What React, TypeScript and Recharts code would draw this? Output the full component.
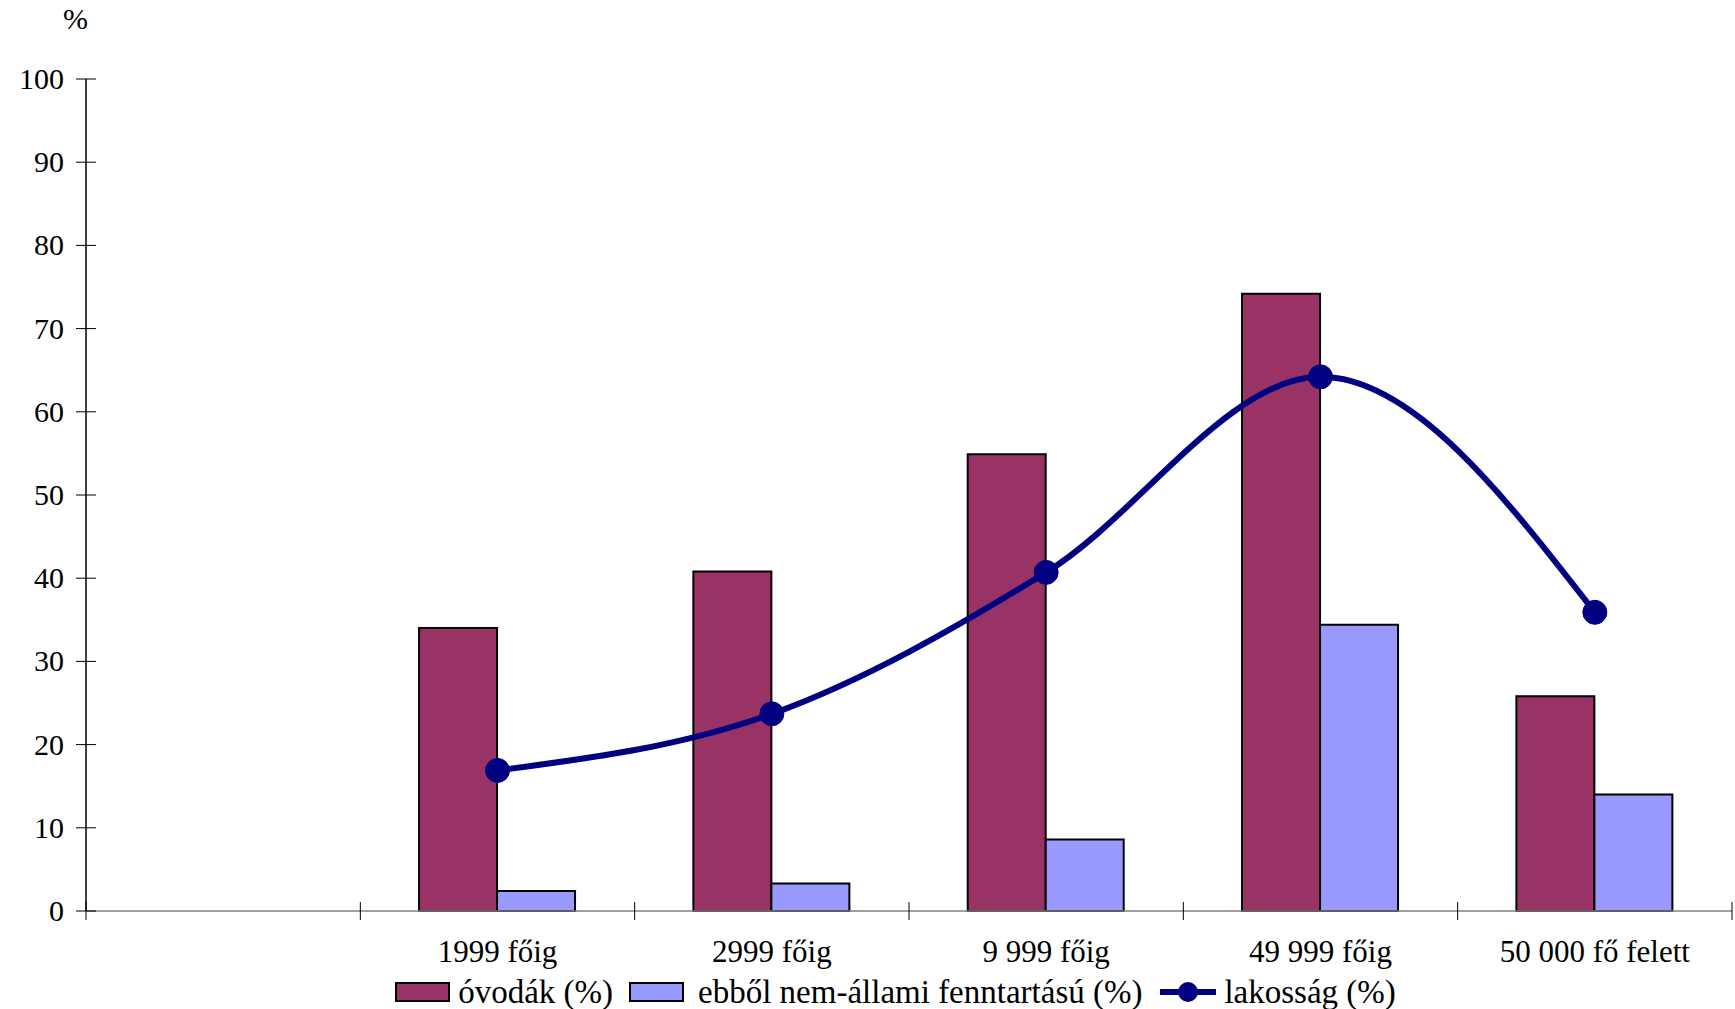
import { ComposedChart, Bar, Line, XAxis, YAxis, Legend } from 'recharts'

// település-kategóriák (az első sáv üres a tengelyen)
const categories = ['', '1999 főig', '2999 főig', '9 999 főig', '49 999 főig', '50 000 fő felett']
const ovodak = [null, 34.0, 40.8, 54.9, 74.2, 25.8]
const nemAllami = [null, 2.4, 3.3, 8.6, 34.4, 14.0]
const lakossag = [null, 16.9, 23.7, 40.7, 64.2, 35.9]
const yTicks = [0, 10, 20, 30, 40, 50, 60, 70, 80, 90, 100]

const FONT = '"Liberation Serif", "Times New Roman", serif'
const MAROON = '#993366'
const LILAC = '#9999ff'
const NAVY = '#000080'

const data = categories.map((name, i) => ({
    name,
    ovodak: ovodak[i],
    nemAllami: nemAllami[i],
    lakossag: lakossag[i],
}))

const YTick = ({ x, y, payload }: any) => (
    <g>
        <line x1={x - 10} x2={x + 10} y1={y} y2={y} stroke="#000" strokeWidth={1} />
        <text x={x - 22} y={y} dy={10} textAnchor="end" fontFamily={FONT} fontSize={30} fill="#000">
            {payload.value}
        </text>
    </g>
)

const XTick = ({ x, y, payload, index }: any) => {
    const half = payload.offset ?? 0
    return (
        <g>
            <line x1={x - half} x2={x - half} y1={y - 9} y2={y + 9} stroke="#000" strokeWidth={1} />
            {index === categories.length - 1 && (
                <line x1={x + half} x2={x + half} y1={y - 9} y2={y + 9} stroke="#000" strokeWidth={1} />
            )}
            <text x={x} y={y} dy={51} textAnchor="middle" fontFamily={FONT} fontSize={31} fill="#000">
                {payload.value}
            </text>
        </g>
    )
}

const renderLegend = () => {
    const text = { fontFamily: FONT, fontSize: 33, color: '#000', lineHeight: '32px' }
    const swatch = (color: string) => (
        <div style={{ width: 55, height: 20, background: color, border: '2px solid #000', boxSizing: 'border-box' as const }} />
    )
    return (
        <div style={{ display: 'flex', justifyContent: 'center', alignItems: 'center', gap: 16, paddingLeft: 56 }}>
            <div style={{ display: 'flex', alignItems: 'center', gap: 8 }}>
                {swatch(MAROON)}
                <span style={text}>óvodák (%)</span>
            </div>
            <div style={{ display: 'flex', alignItems: 'center', gap: 14 }}>
                {swatch(LILAC)}
                <span style={text}>ebből nem-állami fenntartású (%)</span>
            </div>
            <div style={{ display: 'flex', alignItems: 'center', gap: 6 }}>
                <svg width={60} height={26}>
                    <line x1={2} x2={58} y1={13} y2={13} stroke={NAVY} strokeWidth={6} />
                    <circle cx={30} cy={13} r={10} fill={NAVY} />
                </svg>
                <span style={text}>lakosság (%)</span>
            </div>
        </div>
    )
}

export default function App() {
    return (
        <div style={{ position: 'absolute', left: 0, top: 0, width: 1735, height: 1009, background: '#fff' }}>
            <div style={{
                position: 'absolute', left: 63, top: 2, fontFamily: FONT, fontSize: 30, color: '#000'
            }}>
                %
            </div>
            <ComposedChart
                width={1735}
                height={1009}
                data={data}
                margin={{ top: 79, right: 3, bottom: 38, left: 0 }}
                barCategoryGap="21.4%"
                barGap={0}
            >
                <XAxis
                    dataKey="name"
                    interval={0}
                    height={60}
                    tickSize={0}
                    tickMargin={0}
                    tickLine={false}
                    axisLine={{ stroke: '#808080', strokeWidth: 1.5 }}
                    tick={<XTick />}
                />
                <YAxis
                    width={86}
                    domain={[0, 100]}
                    ticks={yTicks}
                    interval={0}
                    tickSize={0}
                    tickMargin={0}
                    tickLine={false}
                    axisLine={{ stroke: '#000', strokeWidth: 1.5 }}
                    tick={<YTick />}
                />
                <Legend
                    layout="horizontal"
                    verticalAlign="middle"
                    align="center"
                    content={renderLegend}
                    wrapperStyle={{ top: 976, left: 0, width: 1735 }}
                />
                <Bar dataKey="ovodak" name="óvodák (%)" fill={MAROON} stroke="#000" strokeWidth={2} isAnimationActive={false} />
                <Bar dataKey="nemAllami" name="ebből nem-állami fenntartású (%)" fill={LILAC} stroke="#000" strokeWidth={2} isAnimationActive={false} />
                <Line
                    dataKey="lakossag"
                    name="lakosság (%)"
                    type="monotone"
                    stroke={NAVY}
                    strokeWidth={6}
                    dot={{ r: 12, fill: NAVY, stroke: NAVY, strokeWidth: 1 }}
                    activeDot={false}
                    isAnimationActive={false}
                />
            </ComposedChart>
        </div>
    )
}
